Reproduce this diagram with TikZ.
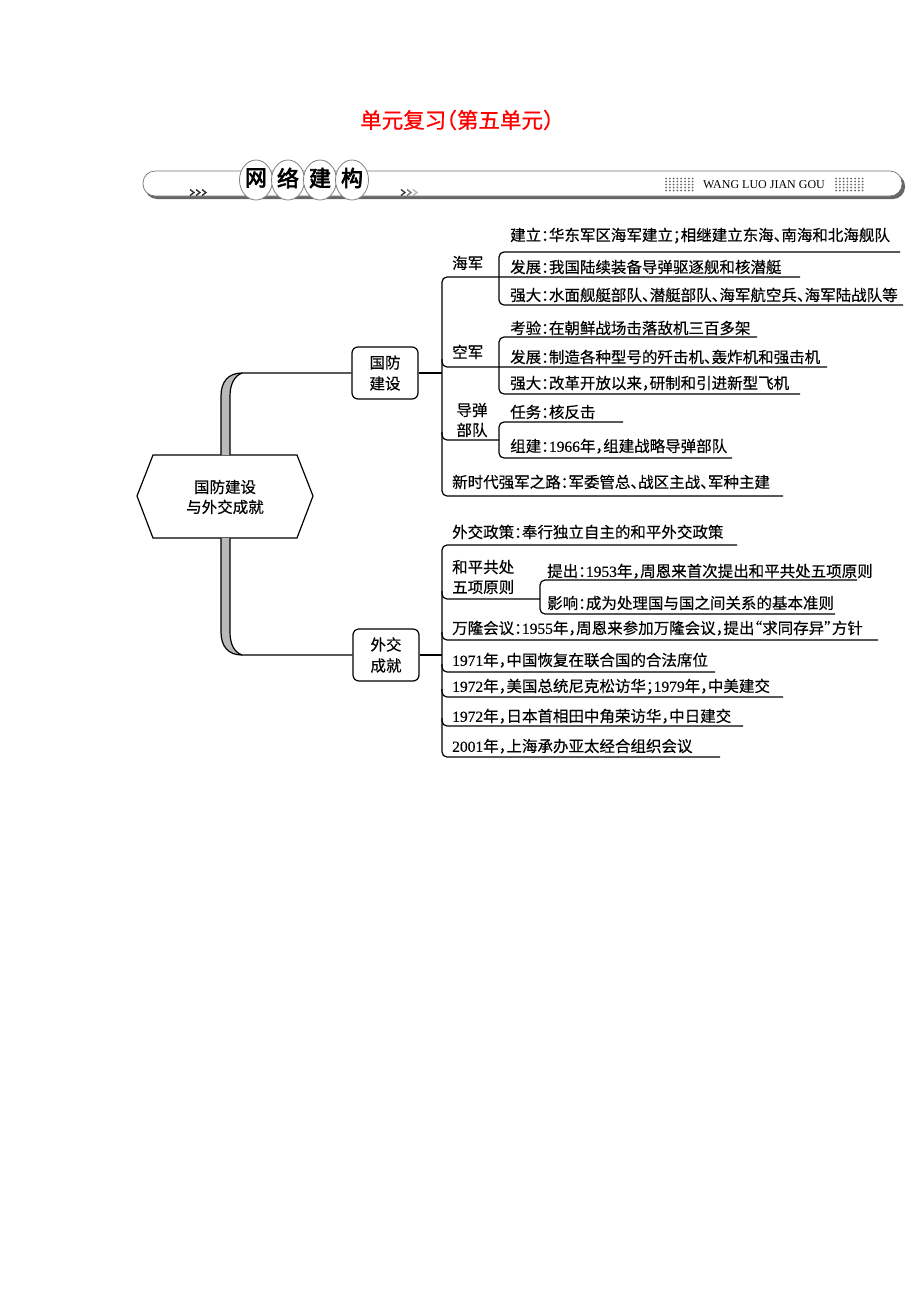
\documentclass[tikz,border=0pt]{standalone}
\usepackage{fontspec}
\setmainfont[RawFeature=+halt,FakeBold=0.35]{Noto Sans CJK SC}
\newfontfamily\lat[FakeBold=0.35]{Liberation Serif}
\newfontfamily\latplain{Liberation Serif}
\newfontfamily\cjkbold[FakeBold=3]{Noto Sans CJK SC}
\newfontfamily\cjktitle[FakeBold=0.8,RawFeature=+halt]{Noto Sans CJK SC}
\newcommand\dg[1]{{\lat #1}}
\begin{document}
\begin{tikzpicture}[x=1pt,y=-1pt,
  t/.style={anchor=west,inner sep=0pt,font=\fontsize{15.5}{20}\selectfont,text height=13.6pt,text depth=1.9pt},
  lab/.style={inner sep=0pt,font=\fontsize{15.5}{20}\selectfont,align=left},
  ln/.style={line width=1.2pt,rounded corners=5pt},
  box/.style={draw,line width=1.2pt,rounded corners=6pt,minimum width=66pt,minimum height=52pt,align=center,font=\fontsize{15.5}{21}\selectfont,inner sep=0pt},
  circ/.style={fill=white,draw=black!50,line width=0.8pt},
  cch/.style={font=\cjkbold\fontsize{22}{22}\selectfont,inner sep=0pt}
]
\useasboundingbox (0,0) rectangle (920,1302);

% ---------- header ----------
\node[text=red,font=\cjktitle\fontsize{21.5}{22}\selectfont] (title) at (457,120) {单元复习（第五单元）};
\fill[black!60,rounded corners=12pt] (145,174) rectangle (905,199);
\filldraw[fill=white,draw=black!55,line width=0.7pt,rounded corners=12pt] (143,171) rectangle (902,196);
\filldraw[circ] (256,180) ellipse [x radius=16.5pt, y radius=20pt];
\filldraw[circ] (288,180) ellipse [x radius=16.5pt, y radius=20pt];
\filldraw[circ] (320,180) ellipse [x radius=16.5pt, y radius=20pt];
\filldraw[circ] (352,180) ellipse [x radius=16.5pt, y radius=20pt];
\node[cch] (c1) at (256,178) {网};
\node[cch] (c2) at (288,178) {络};
\node[cch] (c3) at (320,178) {建};
\node[cch] (c4) at (352,178) {构};
\foreach \dx/\col in {0/black!85,6/black!85,12/black!85}{\draw[\col,line width=1.3pt] (190+\dx,189.5) -- (194+\dx,192.5) -- (190+\dx,195.5);}
\foreach \dx/\col in {0/black!80,6/black!55,12/black!30}{\draw[\col,line width=1.3pt] (401+\dx,189.5) -- (405+\dx,192.5) -- (401+\dx,195.5);}
\foreach \i in {0,...,7}{\foreach \j in {0,...,4}{
  \fill[black!60] (666+3.8*\i,178.5+3*\j) circle (1pt);
  \fill[black!60] (836+3.8*\i,178.5+3*\j) circle (1pt);}}
\node[anchor=west,inner sep=0pt,font=\latplain\fontsize{12}{12}\selectfont] (wl) at (703,184.5) {WANG LUO JIAN GOU};

% ---------- root ----------
\filldraw[fill=white,line width=1.2pt] (137,496) -- (153,455) -- (297,455) -- (313,496) -- (297,538) -- (153,538) -- cycle;
\node[lab,align=center] (root) at (225,497) {国防建设\\与外交成就};
\coordinate (rt) at (221,455);
\coordinate (rb) at (221,538);

\node[box] (gf) at (385,373) {国防\\建设};
\node[box] (wj) at (386,655) {外交\\成就};

% trunk top
\fill[gray!55] (221,455) -- (221,396) .. controls (221,382) and (228,373) .. (242,373) .. controls (234,376) and (230,385) .. (230,396) -- (230,455) -- cycle;
\draw[line width=1.2pt] (rt) -- (221,396) .. controls (221,382) and (228,373) .. (242,373) -- (gf.west);
\draw[line width=1.2pt] (230,455) -- (230,396) .. controls (230,385) and (234,376) .. (242,373);
% trunk bottom
\fill[gray!55] (221,538) -- (221,632) .. controls (221,646) and (228,655) .. (242,655) .. controls (234,652) and (230,644) .. (230,632) -- (230,538) -- cycle;
\draw[line width=1.2pt] (rb) -- (221,632) .. controls (221,646) and (228,655) .. (242,655) -- (wj.west);
\draw[line width=1.2pt] (230,538) -- (230,632) .. controls (230,644) and (234,652) .. (242,655);

% ---------- 国防建设 ----------
\draw[ln] (gf.east) -- (442,373);
\draw[ln] (800,277) -- (442,277) -- (442,496) -- (783,496);
\draw[ln] (900,252) -- (499,252) -- (499,305) -- (903,305);
\draw[ln] (757,337) -- (499,337) -- (499,394) -- (800,394);
\draw[ln] (442,359) |- (827,367);
\draw[ln] (623,422) -- (499,422) -- (499,458) -- (732,458);
\draw[ln] (442,432) |- (499,440);

\node[t] (hj) at (452,263) {海军};
\node[t] (hj1) at (510,235) {建立：华东军区海军建立；相继建立东海、南海和北海舰队};
\node[t] (hj2) at (510,267) {发展：我国陆续装备导弹驱逐舰和核潜艇};
\node[t] (hj3) at (510,295) {强大：水面舰艇部队、潜艇部队、海军航空兵、海军陆战队等};
\node[t] (kj) at (452,352) {空军};
\node[t] (kj1) at (510,328) {考验：在朝鲜战场击落敌机三百多架};
\node[t] (kj2) at (510,357) {发展：制造各种型号的歼击机、轰炸机和强击机};
\node[t] (kj3) at (510,383) {强大：改革开放以来，研制和引进新型飞机};
\node[lab,align=center] (dd) at (472,420) {导弹\\部队};
\node[t] (dd1) at (510,412) {任务：核反击};
\node[t] (dd2) at (510,446) {组建：\dg{1966}年，组建战略导弹部队};
\node[t] (xsd) at (452,482) {新时代强军之路：军委管总、战区主战、军种主建};

% ---------- 外交成就 ----------
\draw[ln] (wj.east) -- (442,655);
\draw[ln] (737,545) -- (442,545) -- (442,757) -- (720,757);
\draw[ln] (857,580) -- (540,580) -- (540,614) -- (835,614);
\draw[ln] (442,591) |- (540,599);
\draw[ln] (442,632) |- (878,640);
\draw[ln] (442,664) |- (715,672);
\draw[ln] (442,689) |- (783,697);
\draw[ln] (442,718) |- (743,726);

\node[t] (w1) at (452,532) {外交政策：奉行独立自主的和平外交政策};
\node[lab,anchor=west] (hp) at (452,577) {和平共处\\五项原则};
\node[t] (hp1) at (547,571) {提出：\dg{1953}年，周恩来首次提出和平共处五项原则};
\node[t] (hp2) at (547,603) {影响：成为处理国与国之间关系的基本准则};
\node[t] (w2) at (452,628) {万隆会议：\dg{1955}年，周恩来参加万隆会议，提出“求同存异”方针};
\node[t] (w3) at (452,660) {\dg{1971}年，中国恢复在联合国的合法席位};
\node[t] (w4) at (452,686) {\dg{1972}年，美国总统尼克松访华；\dg{1979}年，中美建交};
\node[t] (w5) at (452,716) {\dg{1972}年，日本首相田中角荣访华，中日建交};
\node[t] (w6) at (452,746) {\dg{2001}年，上海承办亚太经合组织会议};
\end{tikzpicture}
\end{document}
